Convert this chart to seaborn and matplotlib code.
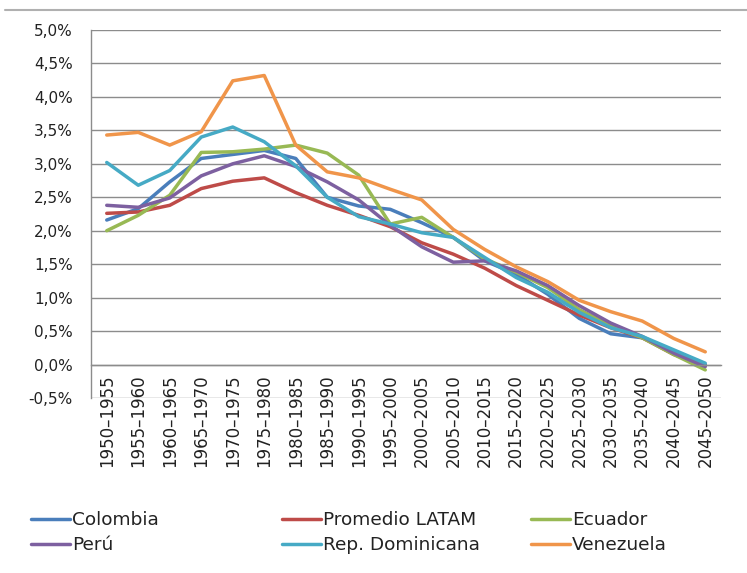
import matplotlib
matplotlib.use("Agg")
import matplotlib.pyplot as plt
from matplotlib.lines import Line2D
from matplotlib.ticker import FuncFormatter, FixedLocator
import seaborn as sns
import pandas as pd
import numpy as np

periods = ["1950–1955", "1955–1960", "1960–1965", "1965–1970", "1970–1975",
           "1975–1980", "1980–1985", "1985–1990", "1990–1995", "1995–2000",
           "2000–2005", "2005–2010", "2010–2015", "2015–2020", "2020–2025",
           "2025–2030", "2030–2035", "2035–2040", "2040–2045", "2045–2050"]

colombia = [2.16, 2.33, 2.73, 3.08, 3.14, 3.20, 3.08, 2.50, 2.37, 2.32,
            2.12, 1.90, 1.55, 1.35, 1.05, 0.69, 0.46, 0.40, 0.20, 0.00]
latam = [2.26, 2.28, 2.38, 2.63, 2.74, 2.79, 2.57, 2.38, 2.23, 2.06,
         1.82, 1.65, 1.44, 1.18, 0.96, 0.74, 0.55, 0.40, 0.15, -0.02]
ecuador = [2.00, 2.23, 2.53, 3.17, 3.18, 3.22, 3.28, 3.16, 2.83, 2.10,
           2.20, 1.90, 1.58, 1.38, 1.15, 0.82, 0.58, 0.40, 0.15, -0.08]
peru = [2.38, 2.35, 2.49, 2.82, 3.00, 3.12, 2.96, 2.73, 2.46, 2.08,
        1.76, 1.53, 1.55, 1.40, 1.18, 0.88, 0.62, 0.42, 0.17, -0.03]
rep_dom = [3.02, 2.68, 2.90, 3.40, 3.55, 3.33, 2.97, 2.50, 2.21, 2.10,
           1.97, 1.90, 1.60, 1.30, 1.08, 0.78, 0.55, 0.42, 0.22, 0.02]
venezuela = [3.43, 3.47, 3.28, 3.48, 4.24, 4.32, 3.28, 2.88, 2.79, 2.62,
             2.46, 2.02, 1.72, 1.46, 1.24, 0.96, 0.79, 0.65, 0.39, 0.19]

series_names = ["Colombia", "Promedio LATAM", "Ecuador", "Perú",
                "Rep. Dominicana", "Venezuela"]
series_values = [colombia, latam, ecuador, peru, rep_dom, venezuela]
colors = ["#4A7EBB", "#BE4B48", "#98B954", "#7D60A0", "#46AAC5", "#F0954A"]

y_ticks = [-0.5, 0.0, 0.5, 1.0, 1.5, 2.0, 2.5, 3.0, 3.5, 4.0, 4.5, 5.0]

rows = []
for name, vals in zip(series_names, series_values):
    for i, (p, v) in enumerate(zip(periods, vals)):
        rows.append({"pos": i, "period": p, "serie": name, "valor": v})
df = pd.DataFrame(rows)

sns.set_style("white")
plt.rcParams["font.family"] = ["DejaVu Sans"]

fig = plt.figure(figsize=(7.47, 5.73), dpi=100)
ax = fig.add_axes([91 / 747, 1 - 398 / 573, (721 - 91) / 747, (398 - 30) / 573])

sns.lineplot(data=df, x="pos", y="valor", hue="serie", hue_order=series_names,
             palette=dict(zip(series_names, colors)), linewidth=2.5, ax=ax,
             legend=True, sort=True)

handles, labels = ax.get_legend_handles_labels()
ax.get_legend().remove()

ax.set_xlim(-0.5, len(periods) - 0.5)
ax.set_ylim(-0.5, 5.0)
ax.set_xlabel("")
ax.set_ylabel("")

grid_col = "#8c8c8c"
ax.yaxis.set_major_locator(FixedLocator(y_ticks))
ax.yaxis.set_major_formatter(FuncFormatter(lambda v, _: f"{v:.1f}%".replace(".", ",")))
ax.yaxis.grid(True, color=grid_col, linewidth=1.0)
ax.xaxis.grid(False)
ax.set_axisbelow(True)

for s in ["top", "right"]:
    ax.spines[s].set_visible(False)
ax.spines["left"].set_color(grid_col)
ax.spines["left"].set_linewidth(1.0)
ax.spines["bottom"].set_position(("data", 0))
ax.spines["bottom"].set_color(grid_col)
ax.spines["bottom"].set_linewidth(1.0)

ax.set_xticks(range(len(periods)))
ax.set_xticklabels(periods, rotation=90, fontsize=12, color="#222222")
ax.set_xticks(np.arange(-0.5, len(periods), 1.0), minor=True)
ax.tick_params(axis="x", which="major", length=0, pad=7)
ax.tick_params(axis="x", which="minor", length=6, color=grid_col, width=1.0,
               direction="out")
ax.tick_params(axis="y", which="major", length=5, color=grid_col, width=1.0,
               labelsize=11, labelcolor="#222222", pad=8)

# decorative top rule
fig.add_artist(Line2D([5 / 747, 1.0], [1 - 10 / 573, 1 - 10 / 573],
                      color="#b0b0b0", linewidth=1.5))

# legend in three columns
order_cols = [[0, 3], [1, 4], [2, 5]]
col_x = [31 / 747, 282 / 747, 531 / 747]
leg_font = {"family": ["DejaVu Sans"], "size": 13.3}
for xs, idxs in zip(col_x, order_cols):
    leg = fig.legend([handles[i] for i in idxs], [labels[i] for i in idxs],
                     loc="upper left", bbox_to_anchor=(xs, 1 - 511 / 573),
                     frameon=False, prop=leg_font, handlelength=2.1,
                     handletextpad=0.12, labelspacing=0.4, borderpad=0,
                     borderaxespad=0)
    for t in leg.get_texts():
        t.set_color("#222222")

fig.savefig("out.png", dpi=100)
